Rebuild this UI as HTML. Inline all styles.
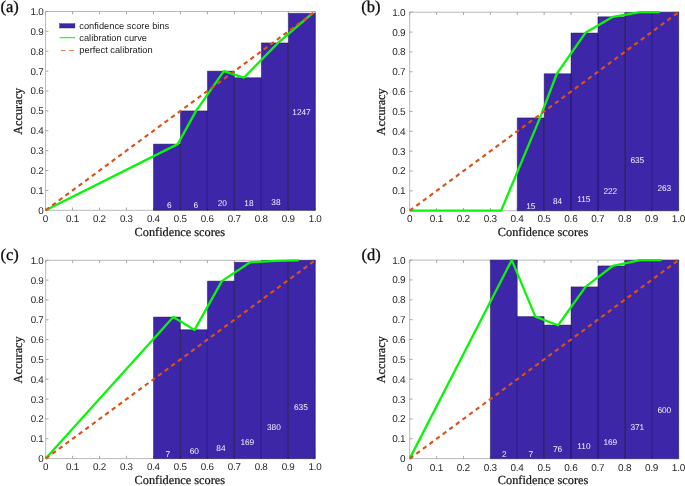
<!DOCTYPE html><html><head><meta charset="utf-8"><title>Calibration curves</title>
<style>html,body{margin:0;padding:0;background:#fff}svg{display:block;will-change:transform;text-rendering:geometricPrecision}.t{font-family:"Liberation Sans",sans-serif;font-size:9.6px;letter-spacing:-0.25px;fill:#262626}.l{font-family:"Liberation Sans",sans-serif;font-size:9.3px;fill:#1c1c1c}.c{font-family:"Liberation Sans",sans-serif;font-size:8.3px;fill:#f4f2fb;text-anchor:middle}.s{font-family:"Liberation Serif",serif;font-size:12.3px;fill:#141414;stroke:#141414;stroke-width:0.22px;text-anchor:middle}.g{font-family:"Liberation Serif",serif;font-size:16.5px;fill:#0c0c0c;stroke:#0c0c0c;stroke-width:0.3px}</style></head><body>
<svg width="685" height="486" viewBox="0 0 685 486">
<rect width="685" height="486" fill="#fff"/>
<g>
<path d="M45.60 11.50H315.30V210.30H45.60Z" fill="none" stroke="#bababa" stroke-width="1"/>
<path d="M45.60 210.30v-2.8M45.60 11.50v2.8M45.60 210.30h2.8M315.30 210.30h-2.8M72.57 210.30v-2.8M72.57 11.50v2.8M45.60 190.42h2.8M315.30 190.42h-2.8M99.54 210.30v-2.8M99.54 11.50v2.8M45.60 170.54h2.8M315.30 170.54h-2.8M126.51 210.30v-2.8M126.51 11.50v2.8M45.60 150.66h2.8M315.30 150.66h-2.8M153.48 210.30v-2.8M153.48 11.50v2.8M45.60 130.78h2.8M315.30 130.78h-2.8M180.45 210.30v-2.8M180.45 11.50v2.8M45.60 110.90h2.8M315.30 110.90h-2.8M207.42 210.30v-2.8M207.42 11.50v2.8M45.60 91.02h2.8M315.30 91.02h-2.8M234.39 210.30v-2.8M234.39 11.50v2.8M45.60 71.14h2.8M315.30 71.14h-2.8M261.36 210.30v-2.8M261.36 11.50v2.8M45.60 51.26h2.8M315.30 51.26h-2.8M288.33 210.30v-2.8M288.33 11.50v2.8M45.60 31.38h2.8M315.30 31.38h-2.8M315.30 210.30v-2.8M315.30 11.50v2.8M45.60 11.50h2.8M315.30 11.50h-2.8" fill="none" stroke="#9c9c9c" stroke-width="0.9"/>
<rect x="153.48" y="144.10" width="26.97" height="66.20" fill="#3D26A8"/>
<rect x="180.45" y="110.90" width="26.97" height="99.40" fill="#3D26A8"/>
<rect x="207.42" y="71.14" width="26.97" height="139.16" fill="#3D26A8"/>
<rect x="234.39" y="77.70" width="26.97" height="132.60" fill="#3D26A8"/>
<rect x="261.36" y="42.91" width="26.97" height="167.39" fill="#3D26A8"/>
<rect x="288.33" y="13.29" width="26.97" height="197.01" fill="#3D26A8"/>
<path d="M153.48 210.30V144.10H180.45V210.30Z" fill="none" stroke="#150c48" stroke-opacity="0.8" stroke-width="0.55"/>
<path d="M180.45 210.30V110.90H207.42V210.30Z" fill="none" stroke="#150c48" stroke-opacity="0.8" stroke-width="0.55"/>
<path d="M207.42 210.30V71.14H234.39V210.30Z" fill="none" stroke="#150c48" stroke-opacity="0.8" stroke-width="0.55"/>
<path d="M234.39 210.30V77.70H261.36V210.30Z" fill="none" stroke="#150c48" stroke-opacity="0.8" stroke-width="0.55"/>
<path d="M261.36 210.30V42.91H288.33V210.30Z" fill="none" stroke="#150c48" stroke-opacity="0.8" stroke-width="0.55"/>
<path d="M288.33 210.30V13.29H315.30V210.30Z" fill="none" stroke="#150c48" stroke-opacity="0.8" stroke-width="0.55"/>
<polyline points="45.60,210.30 177.75,144.10 196.09,110.90 223.87,71.14 243.83,77.70 278.08,42.91 312.33,13.29" fill="none" stroke="#0AF50A" stroke-width="2.3" stroke-linejoin="round"/>
<path d="M45.60 210.30L315.30 11.50" stroke="#D95319" stroke-width="2.15" stroke-dasharray="4.4 3.81" fill="none"/>
<text class="t" style="font-size:9.8px" x="45.45" y="221.90" text-anchor="middle">0</text>
<text class="t" style="font-size:9.8px" x="43.40" y="213.75" text-anchor="end">0</text>
<text class="t" style="font-size:9.8px" x="72.42" y="221.90" text-anchor="middle">0.1</text>
<text class="t" style="font-size:9.8px" x="43.40" y="193.87" text-anchor="end">0.1</text>
<text class="t" style="font-size:9.8px" x="99.39" y="221.90" text-anchor="middle">0.2</text>
<text class="t" style="font-size:9.8px" x="43.40" y="173.99" text-anchor="end">0.2</text>
<text class="t" style="font-size:9.8px" x="126.36" y="221.90" text-anchor="middle">0.3</text>
<text class="t" style="font-size:9.8px" x="43.40" y="154.11" text-anchor="end">0.3</text>
<text class="t" style="font-size:9.8px" x="153.33" y="221.90" text-anchor="middle">0.4</text>
<text class="t" style="font-size:9.8px" x="43.40" y="134.23" text-anchor="end">0.4</text>
<text class="t" style="font-size:9.8px" x="180.30" y="221.90" text-anchor="middle">0.5</text>
<text class="t" style="font-size:9.8px" x="43.40" y="114.35" text-anchor="end">0.5</text>
<text class="t" style="font-size:9.8px" x="207.27" y="221.90" text-anchor="middle">0.6</text>
<text class="t" style="font-size:9.8px" x="43.40" y="94.47" text-anchor="end">0.6</text>
<text class="t" style="font-size:9.8px" x="234.24" y="221.90" text-anchor="middle">0.7</text>
<text class="t" style="font-size:9.8px" x="43.40" y="74.59" text-anchor="end">0.7</text>
<text class="t" style="font-size:9.8px" x="261.21" y="221.90" text-anchor="middle">0.8</text>
<text class="t" style="font-size:9.8px" x="43.40" y="54.71" text-anchor="end">0.8</text>
<text class="t" style="font-size:9.8px" x="288.18" y="221.90" text-anchor="middle">0.9</text>
<text class="t" style="font-size:9.8px" x="43.40" y="34.83" text-anchor="end">0.9</text>
<text class="t" style="font-size:9.8px" x="315.15" y="221.90" text-anchor="middle">1.0</text>
<text class="t" style="font-size:9.8px" x="43.40" y="14.95" text-anchor="end">1.0</text>
<text class="s" x="179.80" y="235.50">Confidence scores</text>
<text class="s" transform="translate(22.20 111.30) rotate(-90)">Accuracy</text>
<text class="c" x="169.30" y="207.55">6</text>
<text class="c" x="195.90" y="207.55">6</text>
<text class="c" x="222.30" y="205.75">20</text>
<text class="c" x="248.90" y="205.75">18</text>
<text class="c" x="275.90" y="204.55">38</text>
<text class="c" x="301.50" y="114.95">1247</text>
<text class="g" x="0.40" y="12.40">(a)</text>
</g>
<g>
<path d="M409.70 12.20H678.60V210.70H409.70Z" fill="none" stroke="#bababa" stroke-width="1"/>
<path d="M409.70 210.70v-2.8M409.70 12.20v2.8M409.70 210.70h2.8M678.60 210.70h-2.8M436.59 210.70v-2.8M436.59 12.20v2.8M409.70 190.85h2.8M678.60 190.85h-2.8M463.48 210.70v-2.8M463.48 12.20v2.8M409.70 171.00h2.8M678.60 171.00h-2.8M490.37 210.70v-2.8M490.37 12.20v2.8M409.70 151.15h2.8M678.60 151.15h-2.8M517.26 210.70v-2.8M517.26 12.20v2.8M409.70 131.30h2.8M678.60 131.30h-2.8M544.15 210.70v-2.8M544.15 12.20v2.8M409.70 111.45h2.8M678.60 111.45h-2.8M571.04 210.70v-2.8M571.04 12.20v2.8M409.70 91.60h2.8M678.60 91.60h-2.8M597.93 210.70v-2.8M597.93 12.20v2.8M409.70 71.75h2.8M678.60 71.75h-2.8M624.82 210.70v-2.8M624.82 12.20v2.8M409.70 51.90h2.8M678.60 51.90h-2.8M651.71 210.70v-2.8M651.71 12.20v2.8M409.70 32.05h2.8M678.60 32.05h-2.8M678.60 210.70v-2.8M678.60 12.20v2.8M409.70 12.20h2.8M678.60 12.20h-2.8" fill="none" stroke="#9c9c9c" stroke-width="0.9"/>
<rect x="517.26" y="117.90" width="26.89" height="92.80" fill="#3D26A8"/>
<rect x="544.15" y="73.73" width="26.89" height="136.97" fill="#3D26A8"/>
<rect x="571.04" y="33.04" width="26.89" height="177.66" fill="#3D26A8"/>
<rect x="597.93" y="16.77" width="26.89" height="193.93" fill="#3D26A8"/>
<rect x="624.82" y="12.60" width="26.89" height="198.10" fill="#3D26A8"/>
<rect x="651.71" y="12.20" width="26.89" height="198.50" fill="#3D26A8"/>
<path d="M517.26 210.70V117.90H544.15V210.70Z" fill="none" stroke="#150c48" stroke-opacity="0.8" stroke-width="0.55"/>
<path d="M544.15 210.70V73.73H571.04V210.70Z" fill="none" stroke="#150c48" stroke-opacity="0.8" stroke-width="0.55"/>
<path d="M571.04 210.70V33.04H597.93V210.70Z" fill="none" stroke="#150c48" stroke-opacity="0.8" stroke-width="0.55"/>
<path d="M597.93 210.70V16.77H624.82V210.70Z" fill="none" stroke="#150c48" stroke-opacity="0.8" stroke-width="0.55"/>
<path d="M624.82 210.70V12.60H651.71V210.70Z" fill="none" stroke="#150c48" stroke-opacity="0.8" stroke-width="0.55"/>
<path d="M651.71 210.70V12.20H678.60V210.70Z" fill="none" stroke="#150c48" stroke-opacity="0.8" stroke-width="0.55"/>
<polyline points="409.70,210.70 501.13,210.70 539.98,117.90 556.79,73.73 585.43,32.84 612.91,16.77 640.28,12.20 659.78,12.20" fill="none" stroke="#0AF50A" stroke-width="2.3" stroke-linejoin="round"/>
<path d="M409.70 210.70L678.60 12.20" stroke="#D95319" stroke-width="2.15" stroke-dasharray="4.4 3.81" fill="none"/>
<text class="t" style="font-size:10.0px" x="409.55" y="221.80" text-anchor="middle">0</text>
<text class="t" style="font-size:10.0px" x="405.40" y="214.15" text-anchor="end">0</text>
<text class="t" style="font-size:10.0px" x="436.44" y="221.80" text-anchor="middle">0.1</text>
<text class="t" style="font-size:10.0px" x="405.40" y="194.30" text-anchor="end">0.1</text>
<text class="t" style="font-size:10.0px" x="463.33" y="221.80" text-anchor="middle">0.2</text>
<text class="t" style="font-size:10.0px" x="405.40" y="174.45" text-anchor="end">0.2</text>
<text class="t" style="font-size:10.0px" x="490.22" y="221.80" text-anchor="middle">0.3</text>
<text class="t" style="font-size:10.0px" x="405.40" y="154.60" text-anchor="end">0.3</text>
<text class="t" style="font-size:10.0px" x="517.11" y="221.80" text-anchor="middle">0.4</text>
<text class="t" style="font-size:10.0px" x="405.40" y="134.75" text-anchor="end">0.4</text>
<text class="t" style="font-size:10.0px" x="544.00" y="221.80" text-anchor="middle">0.5</text>
<text class="t" style="font-size:10.0px" x="405.40" y="114.90" text-anchor="end">0.5</text>
<text class="t" style="font-size:10.0px" x="570.89" y="221.80" text-anchor="middle">0.6</text>
<text class="t" style="font-size:10.0px" x="405.40" y="95.05" text-anchor="end">0.6</text>
<text class="t" style="font-size:10.0px" x="597.78" y="221.80" text-anchor="middle">0.7</text>
<text class="t" style="font-size:10.0px" x="405.40" y="75.20" text-anchor="end">0.7</text>
<text class="t" style="font-size:10.0px" x="624.67" y="221.80" text-anchor="middle">0.8</text>
<text class="t" style="font-size:10.0px" x="405.40" y="55.35" text-anchor="end">0.8</text>
<text class="t" style="font-size:10.0px" x="651.56" y="221.80" text-anchor="middle">0.9</text>
<text class="t" style="font-size:10.0px" x="405.40" y="35.50" text-anchor="end">0.9</text>
<text class="t" style="font-size:10.0px" x="678.45" y="221.80" text-anchor="middle">1.0</text>
<text class="t" style="font-size:10.0px" x="405.40" y="15.65" text-anchor="end">1.0</text>
<text class="s" x="543.05" y="235.90">Confidence scores</text>
<text class="s" transform="translate(384.70 111.85) rotate(-90)">Accuracy</text>
<text class="c" x="530.80" y="209.35">15</text>
<text class="c" x="557.60" y="204.25">84</text>
<text class="c" x="583.80" y="201.85">115</text>
<text class="c" x="610.30" y="193.95">222</text>
<text class="c" x="637.30" y="162.95">635</text>
<text class="c" x="664.30" y="190.55">263</text>
<text class="g" x="361.30" y="12.40">(b)</text>
</g>
<g>
<path d="M45.70 260.30H315.20V458.60H45.70Z" fill="none" stroke="#bababa" stroke-width="1"/>
<path d="M45.70 458.60v-2.8M45.70 260.30v2.8M45.70 458.60h2.8M315.20 458.60h-2.8M72.65 458.60v-2.8M72.65 260.30v2.8M45.70 438.77h2.8M315.20 438.77h-2.8M99.60 458.60v-2.8M99.60 260.30v2.8M45.70 418.94h2.8M315.20 418.94h-2.8M126.55 458.60v-2.8M126.55 260.30v2.8M45.70 399.11h2.8M315.20 399.11h-2.8M153.50 458.60v-2.8M153.50 260.30v2.8M45.70 379.28h2.8M315.20 379.28h-2.8M180.45 458.60v-2.8M180.45 260.30v2.8M45.70 359.45h2.8M315.20 359.45h-2.8M207.40 458.60v-2.8M207.40 260.30v2.8M45.70 339.62h2.8M315.20 339.62h-2.8M234.35 458.60v-2.8M234.35 260.30v2.8M45.70 319.79h2.8M315.20 319.79h-2.8M261.30 458.60v-2.8M261.30 260.30v2.8M45.70 299.96h2.8M315.20 299.96h-2.8M288.25 458.60v-2.8M288.25 260.30v2.8M45.70 280.13h2.8M315.20 280.13h-2.8M315.20 458.60v-2.8M315.20 260.30v2.8M45.70 260.30h2.8M315.20 260.30h-2.8" fill="none" stroke="#9c9c9c" stroke-width="0.9"/>
<rect x="153.50" y="317.05" width="26.95" height="141.55" fill="#3D26A8"/>
<rect x="180.45" y="329.71" width="26.95" height="128.89" fill="#3D26A8"/>
<rect x="207.40" y="281.12" width="26.95" height="177.48" fill="#3D26A8"/>
<rect x="234.35" y="262.28" width="26.95" height="196.32" fill="#3D26A8"/>
<rect x="261.30" y="260.50" width="26.95" height="198.10" fill="#3D26A8"/>
<rect x="288.25" y="260.30" width="26.95" height="198.30" fill="#3D26A8"/>
<path d="M153.50 458.60V317.05H180.45V458.60Z" fill="none" stroke="#150c48" stroke-opacity="0.8" stroke-width="0.55"/>
<path d="M180.45 458.60V329.71H207.40V458.60Z" fill="none" stroke="#150c48" stroke-opacity="0.8" stroke-width="0.55"/>
<path d="M207.40 458.60V281.12H234.35V458.60Z" fill="none" stroke="#150c48" stroke-opacity="0.8" stroke-width="0.55"/>
<path d="M234.35 458.60V262.28H261.30V458.60Z" fill="none" stroke="#150c48" stroke-opacity="0.8" stroke-width="0.55"/>
<path d="M261.30 458.60V260.50H288.25V458.60Z" fill="none" stroke="#150c48" stroke-opacity="0.8" stroke-width="0.55"/>
<path d="M288.25 458.60V260.30H315.20V458.60Z" fill="none" stroke="#150c48" stroke-opacity="0.8" stroke-width="0.55"/>
<polyline points="45.70,458.60 173.31,317.05 194.60,329.90 221.82,281.12 250.12,262.28 276.12,260.89 298.76,260.30" fill="none" stroke="#0AF50A" stroke-width="2.3" stroke-linejoin="round"/>
<path d="M45.70 458.60L315.20 260.30" stroke="#D95319" stroke-width="2.15" stroke-dasharray="4.4 3.81" fill="none"/>
<text class="t" style="font-size:9.8px" x="45.55" y="470.00" text-anchor="middle">0</text>
<text class="t" style="font-size:9.8px" x="43.50" y="462.05" text-anchor="end">0</text>
<text class="t" style="font-size:9.8px" x="72.50" y="470.00" text-anchor="middle">0.1</text>
<text class="t" style="font-size:9.8px" x="43.50" y="442.22" text-anchor="end">0.1</text>
<text class="t" style="font-size:9.8px" x="99.45" y="470.00" text-anchor="middle">0.2</text>
<text class="t" style="font-size:9.8px" x="43.50" y="422.39" text-anchor="end">0.2</text>
<text class="t" style="font-size:9.8px" x="126.40" y="470.00" text-anchor="middle">0.3</text>
<text class="t" style="font-size:9.8px" x="43.50" y="402.56" text-anchor="end">0.3</text>
<text class="t" style="font-size:9.8px" x="153.35" y="470.00" text-anchor="middle">0.4</text>
<text class="t" style="font-size:9.8px" x="43.50" y="382.73" text-anchor="end">0.4</text>
<text class="t" style="font-size:9.8px" x="180.30" y="470.00" text-anchor="middle">0.5</text>
<text class="t" style="font-size:9.8px" x="43.50" y="362.90" text-anchor="end">0.5</text>
<text class="t" style="font-size:9.8px" x="207.25" y="470.00" text-anchor="middle">0.6</text>
<text class="t" style="font-size:9.8px" x="43.50" y="343.07" text-anchor="end">0.6</text>
<text class="t" style="font-size:9.8px" x="234.20" y="470.00" text-anchor="middle">0.7</text>
<text class="t" style="font-size:9.8px" x="43.50" y="323.24" text-anchor="end">0.7</text>
<text class="t" style="font-size:9.8px" x="261.15" y="470.00" text-anchor="middle">0.8</text>
<text class="t" style="font-size:9.8px" x="43.50" y="303.41" text-anchor="end">0.8</text>
<text class="t" style="font-size:9.8px" x="288.10" y="470.00" text-anchor="middle">0.9</text>
<text class="t" style="font-size:9.8px" x="43.50" y="283.58" text-anchor="end">0.9</text>
<text class="t" style="font-size:9.8px" x="315.05" y="470.00" text-anchor="middle">1.0</text>
<text class="t" style="font-size:9.8px" x="43.50" y="263.75" text-anchor="end">1.0</text>
<text class="s" x="179.80" y="483.80">Confidence scores</text>
<text class="s" transform="translate(22.30 359.85) rotate(-90)">Accuracy</text>
<text class="c" x="167.80" y="457.25">7</text>
<text class="c" x="194.30" y="453.65">60</text>
<text class="c" x="220.90" y="451.45">84</text>
<text class="c" x="247.30" y="445.35">169</text>
<text class="c" x="273.90" y="429.55">380</text>
<text class="c" x="300.90" y="410.25">635</text>
<text class="g" x="0.40" y="260.20">(c)</text>
</g>
<g>
<path d="M409.70 260.10H678.60V458.65H409.70Z" fill="none" stroke="#bababa" stroke-width="1"/>
<path d="M409.70 458.65v-2.8M409.70 260.10v2.8M409.70 458.65h2.8M678.60 458.65h-2.8M436.59 458.65v-2.8M436.59 260.10v2.8M409.70 438.79h2.8M678.60 438.79h-2.8M463.48 458.65v-2.8M463.48 260.10v2.8M409.70 418.94h2.8M678.60 418.94h-2.8M490.37 458.65v-2.8M490.37 260.10v2.8M409.70 399.08h2.8M678.60 399.08h-2.8M517.26 458.65v-2.8M517.26 260.10v2.8M409.70 379.23h2.8M678.60 379.23h-2.8M544.15 458.65v-2.8M544.15 260.10v2.8M409.70 359.38h2.8M678.60 359.38h-2.8M571.04 458.65v-2.8M571.04 260.10v2.8M409.70 339.52h2.8M678.60 339.52h-2.8M597.93 458.65v-2.8M597.93 260.10v2.8M409.70 319.67h2.8M678.60 319.67h-2.8M624.82 458.65v-2.8M624.82 260.10v2.8M409.70 299.81h2.8M678.60 299.81h-2.8M651.71 458.65v-2.8M651.71 260.10v2.8M409.70 279.96h2.8M678.60 279.96h-2.8M678.60 458.65v-2.8M678.60 260.10v2.8M409.70 260.10h2.8M678.60 260.10h-2.8" fill="none" stroke="#9c9c9c" stroke-width="0.9"/>
<rect x="490.37" y="260.10" width="26.89" height="198.55" fill="#3D26A8"/>
<rect x="517.26" y="316.59" width="26.89" height="142.06" fill="#3D26A8"/>
<rect x="544.15" y="325.03" width="26.89" height="133.62" fill="#3D26A8"/>
<rect x="571.04" y="286.90" width="26.89" height="171.75" fill="#3D26A8"/>
<rect x="597.93" y="265.92" width="26.89" height="192.73" fill="#3D26A8"/>
<rect x="624.82" y="260.30" width="26.89" height="198.35" fill="#3D26A8"/>
<rect x="651.71" y="260.10" width="26.89" height="198.55" fill="#3D26A8"/>
<path d="M490.37 458.65V260.10H517.26V458.65Z" fill="none" stroke="#150c48" stroke-opacity="0.8" stroke-width="0.55"/>
<path d="M517.26 458.65V316.59H544.15V458.65Z" fill="none" stroke="#150c48" stroke-opacity="0.8" stroke-width="0.55"/>
<path d="M544.15 458.65V325.03H571.04V458.65Z" fill="none" stroke="#150c48" stroke-opacity="0.8" stroke-width="0.55"/>
<path d="M571.04 458.65V286.90H597.93V458.65Z" fill="none" stroke="#150c48" stroke-opacity="0.8" stroke-width="0.55"/>
<path d="M597.93 458.65V265.92H624.82V458.65Z" fill="none" stroke="#150c48" stroke-opacity="0.8" stroke-width="0.55"/>
<path d="M624.82 458.65V260.30H651.71V458.65Z" fill="none" stroke="#150c48" stroke-opacity="0.8" stroke-width="0.55"/>
<path d="M651.71 458.65V260.10H678.60V458.65Z" fill="none" stroke="#150c48" stroke-opacity="0.8" stroke-width="0.55"/>
<polyline points="409.70,458.65 511.80,260.10 535.38,316.59 558.11,325.22 585.51,286.90 612.91,265.76 640.28,260.10 661.61,260.10" fill="none" stroke="#0AF50A" stroke-width="2.3" stroke-linejoin="round"/>
<path d="M409.70 458.65L678.60 260.10" stroke="#D95319" stroke-width="2.15" stroke-dasharray="4.4 3.81" fill="none"/>
<text class="t" style="font-size:10.0px" x="409.55" y="471.15" text-anchor="middle">0</text>
<text class="t" style="font-size:10.0px" x="405.40" y="462.10" text-anchor="end">0</text>
<text class="t" style="font-size:10.0px" x="436.44" y="471.15" text-anchor="middle">0.1</text>
<text class="t" style="font-size:10.0px" x="405.40" y="442.24" text-anchor="end">0.1</text>
<text class="t" style="font-size:10.0px" x="463.33" y="471.15" text-anchor="middle">0.2</text>
<text class="t" style="font-size:10.0px" x="405.40" y="422.39" text-anchor="end">0.2</text>
<text class="t" style="font-size:10.0px" x="490.22" y="471.15" text-anchor="middle">0.3</text>
<text class="t" style="font-size:10.0px" x="405.40" y="402.53" text-anchor="end">0.3</text>
<text class="t" style="font-size:10.0px" x="517.11" y="471.15" text-anchor="middle">0.4</text>
<text class="t" style="font-size:10.0px" x="405.40" y="382.68" text-anchor="end">0.4</text>
<text class="t" style="font-size:10.0px" x="544.00" y="471.15" text-anchor="middle">0.5</text>
<text class="t" style="font-size:10.0px" x="405.40" y="362.82" text-anchor="end">0.5</text>
<text class="t" style="font-size:10.0px" x="570.89" y="471.15" text-anchor="middle">0.6</text>
<text class="t" style="font-size:10.0px" x="405.40" y="342.97" text-anchor="end">0.6</text>
<text class="t" style="font-size:10.0px" x="597.78" y="471.15" text-anchor="middle">0.7</text>
<text class="t" style="font-size:10.0px" x="405.40" y="323.12" text-anchor="end">0.7</text>
<text class="t" style="font-size:10.0px" x="624.67" y="471.15" text-anchor="middle">0.8</text>
<text class="t" style="font-size:10.0px" x="405.40" y="303.26" text-anchor="end">0.8</text>
<text class="t" style="font-size:10.0px" x="651.56" y="471.15" text-anchor="middle">0.9</text>
<text class="t" style="font-size:10.0px" x="405.40" y="283.41" text-anchor="end">0.9</text>
<text class="t" style="font-size:10.0px" x="678.45" y="471.15" text-anchor="middle">1.0</text>
<text class="t" style="font-size:10.0px" x="405.40" y="263.55" text-anchor="end">1.0</text>
<text class="s" x="543.05" y="483.85">Confidence scores</text>
<text class="s" transform="translate(384.70 359.77) rotate(-90)">Accuracy</text>
<text class="c" x="504.30" y="456.95">2</text>
<text class="c" x="530.90" y="456.95">7</text>
<text class="c" x="557.50" y="451.95">76</text>
<text class="c" x="583.90" y="449.25">110</text>
<text class="c" x="610.30" y="444.65">169</text>
<text class="c" x="637.30" y="430.05">371</text>
<text class="c" x="664.30" y="413.05">600</text>
<text class="g" x="361.40" y="260.00">(d)</text>
</g>
<g>
<rect x="59.6" y="23.7" width="15.3" height="4.3" fill="#3D26A8" stroke="#1d1260" stroke-width="0.4"/>
<path d="M59.6 37.6H75" stroke="#3ef03e" stroke-width="1.3"/>
<path d="M61 50.6H65.5M69.1 50.6H74" stroke="#e07a4c" stroke-width="1.0"/>
<text class="l" x="79.3" y="29.1">confidence score bins</text>
<text class="l" x="79.3" y="40.85">calibration curve</text>
<text class="l" x="79.3" y="52.6">perfect calibration</text>
</g>
</svg></body></html>
